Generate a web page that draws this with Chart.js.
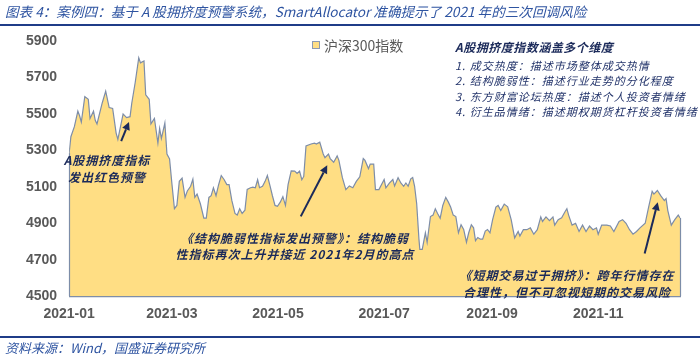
<!DOCTYPE html>
<html><head><meta charset="utf-8">
<script src="https://cdn.jsdelivr.net/npm/chart.js@4/dist/chart.umd.min.js"></script>
<style>
html,body{margin:0;padding:0;background:#fff;}
#wrap{position:relative;width:700px;height:356px;overflow:hidden;font-family:"Noto Sans CJK SC","Noto Sans",sans-serif;}
canvas{position:absolute;left:0;top:0;}
.t{position:absolute;white-space:nowrap;}
.rule{position:absolute;left:0;width:700px;height:2px;background:#1F3C88;}
#title{left:5px;top:1px;font-size:13.6px;line-height:20px;font-style:italic;color:#2E54A1;}
#source{left:5px;top:339px;font-size:13px;line-height:17px;font-style:italic;color:#2E54A1;}
.ann{position:absolute;white-space:nowrap;text-align:center;font-size:12px;font-weight:bold;font-style:italic;color:#1B2A5A;letter-spacing:1px;}
#legend{left:312px;top:36px;font-size:14px;line-height:18px;color:#595959;}
#legend .sw{display:inline-block;width:6px;height:6px;border:1px solid #8C9AB3;background:#FFDE84;margin-right:4px;vertical-align:2px;}
#box{left:455px;top:38px;color:#22336A;}
#box .h{font-size:12px;font-weight:bold;font-style:italic;line-height:18px;letter-spacing:0.5px;color:#1B2A5A;}
#box .l{font-size:11px;font-style:italic;line-height:15.3px;letter-spacing:1px;}
</style></head><body>
<div id="wrap">
<canvas id="c" width="700" height="356"></canvas>
<div class="t" id="title">图表 4：案例四：基于 A 股拥挤度预警系统，SmartAllocator 准确提示了 2021 年的三次回调风险</div>
<div class="rule" style="top:24px"></div>
<div class="rule" style="top:336px"></div>
<div class="t" id="source">资料来源：Wind，国盛证券研究所</div>
<div class="t" id="legend"></div>
<div class="t" id="box">
<div class="h">A股拥挤度指数涵盖多个维度</div>
<div class="l" style="margin-top:2px">1. 成交热度：描述市场整体成交热情</div>
<div class="l">2. 结构脆弱性：描述行业走势的分化程度</div>
<div class="l">3. 东方财富论坛热度：描述个人投资者情绪</div>
<div class="l">4. 衍生品情绪：描述期权期货杠杆投资者情绪</div>
</div>
<div class="ann" style="left:47px;top:151px;width:120px;line-height:17px;">A股拥挤度指标<br>发出红色预警</div>
<div class="ann" style="left:160px;top:230px;width:270px;line-height:16px;">《结构脆弱性指标发出预警》：结构脆弱<br>性指标再次上升并接近 2021年2月的高点</div>
<div class="ann" style="left:442px;top:266px;width:250px;line-height:17px;">《短期交易过于拥挤》：跨年行情存在<br>合理性，但不可忽视短期的交易风险</div>
</div>
<script>
const seriesName = '沪深300指数';
const tickDays = [0, 59, 120, 181, 243, 304];
const tickLabels = ['2021-01', '2021-03', '2021-05', '2021-07', '2021-09', '2021-11'];
const yMin = 4500, yMax = 5900, yStep = 200;

const days = [
 0,1,3,5,6,7,9,11,12,14,15,16,19,21,23,25,27,28,31,33,35,36,38,40,41,43,44,46,47,49,51,52,53,55,
 56.2,57.7,59.1,60.5,61.9,63.3,64.9,66.6,67.9,69.8,71.1,72.2,73.5,75.4,77.4,78.8,80.3,81.6,82.9,84.4,85.9,87.4,89.1,90.6,91.9,93.5,95.3,96.6,98,99.4,101,102.3,104.2,105.6,107,108.3,109.4,111.1,112.6,113.9,115.5,116.8,118.3,119.7,121.3,122.8,124.3,125.8,127.6,129.6,131,132.4,133.7,134.8,136.1,
 139,141,142,144,146,147,149,150,152,154,155,157,159,161,163,165,167,169,170,172,173,175,176,178,181,182,184,186,187,189,
 190.6,192.2,193.5,194.8,196.3,197.4,198.5,199.7,201,201.5,202.9,204.7,205.7,207.6,209.1,210.4,211.7,213.2,214.7,216.4,217.9,219.2,220.7,222.2,223.7,225.2,226.7,228.3,229.6,231.1,232.4,233.5,234.8,236.3,237.6,239.1,240.4,241.8,243.3,245.2,246.5,
 248,250,252,254,256,258,259,261,263,265,267,269,271,272,274,276,278,279,281,283,285,286,287,289,291,293,295,297,299,301,303,304,306,309,311,313,316,318,320,322,324,326,328,331,333,335,336,338,340,342,343,344,346,348,350,351
];
const csi300 = [
 5285,5375,5430,5515,5490,5455,5595,5580,5475,5515,5465,5445,5560,5625,5535,5530,5395,5360,5500,5480,5485,5560,5675,5808,5780,5790,5605,5580,5445,5475,5340,5420,5365,5450,
 5280,5253,5112,4980,4998,5130,5148,5042,5077,5103,5142,5042,5060,5007,4928,4928,5042,5051,5095,5051,5112,5162,5139,5112,5112,5024,4954,4945,4980,4954,4972,5086,5095,5098,5095,5139,5095,5103,5130,5162,5103,5051,4998,4993,5016,5046,4998,5112,5188,5186,5174,5186,5139,5157,5324,
 5335,5340,5335,5345,5280,5260,5280,5255,5235,5270,5245,5150,5085,5105,5095,5130,5155,5255,5245,5200,5225,5225,5085,5085,5140,5095,5120,5140,5105,5150,
 5121,5103,5121,5103,5144,5151,5103,5007,4813,4757,4757,4848,4796,4937,4945,4980,4954,4928,4998,5042,5016,4989,4945,4937,4848,4892,4866,4796,4848,4892,4875,4805,4822,4813,4813,4857,4866,4848,4919,4989,4998,
 4970,5005,4990,4920,4820,4855,4830,4865,4865,4875,4840,4865,4935,4910,4935,4915,4935,4890,4920,4930,4965,4980,4945,4890,4900,4855,4890,4855,4885,4865,4875,4840,4890,4890,4885,4855,4910,4920,4900,4865,4840,4855,4875,4900,4990,5075,5060,5080,5050,5025,5035,4970,4890,4920,4945,4930
];

// annotation arrows, anchored in data coordinates: [tailDay, tailValue, headDay, headValue]
const arrows = [
 [29.9, 5351, 34.4, 5456],
 [133.1, 4938, 148.3, 5218],
 [330.7, 4734, 338.2, 5016]
];

document.getElementById('legend').innerHTML = '<span class="sw"></span>' + seriesName;

const lineColor = '#7D8DA8';
const edgePlugin = {
  id: 'edges',
  afterDatasetsDraw(chart) {
    const meta = chart.getDatasetMeta(0);
    const pts = meta.data;
    const ctx = chart.ctx, b = chart.chartArea.bottom;
    ctx.save();
    ctx.strokeStyle = lineColor; ctx.lineWidth = 1.2;
    [pts[0], pts[pts.length - 1]].forEach(p => {
      ctx.beginPath(); ctx.moveTo(Math.round(p.x) + 0.5, p.y); ctx.lineTo(Math.round(p.x) + 0.5, b); ctx.stroke();
    });
    ctx.restore();
  }
};
const arrowPlugin = {
  id: 'arrows',
  afterDraw(chart) {
    const ctx = chart.ctx, xs = chart.scales.x, ys = chart.scales.y;
    ctx.save();
    ctx.strokeStyle = '#1B2A5A'; ctx.fillStyle = '#1B2A5A'; ctx.lineWidth = 2;
    arrows.forEach(a => {
      const x1 = xs.getPixelForValue(a[0]), y1 = ys.getPixelForValue(a[1]);
      const x2 = xs.getPixelForValue(a[2]), y2 = ys.getPixelForValue(a[3]);
      const ang = Math.atan2(y2 - y1, x2 - x1), hl = 8, hw = 4;
      const bx = x2 - hl * Math.cos(ang), by = y2 - hl * Math.sin(ang);
      ctx.beginPath(); ctx.moveTo(x1, y1); ctx.lineTo(bx, by); ctx.stroke();
      ctx.beginPath();
      ctx.moveTo(x2, y2);
      ctx.lineTo(bx + hw * Math.sin(ang), by - hw * Math.cos(ang));
      ctx.lineTo(bx - hw * Math.sin(ang), by + hw * Math.cos(ang));
      ctx.closePath(); ctx.fill();
    });
    ctx.restore();
  }
};

const tickFont = { family: '"Liberation Sans", Arial, sans-serif', size: 14, weight: 'bold' };
new Chart(document.getElementById('c'), {
  type: 'line',
  data: {
    datasets: [{
      label: seriesName,
      data: days.map((d, i) => ({ x: d, y: csi300[i] })),
      borderColor: lineColor,
      borderWidth: 1.2,
      backgroundColor: '#FFDE84',
      fill: 'start',
      pointRadius: 0,
      tension: 0
    }]
  },
  options: {
    responsive: false,
    animation: false,
    layout: { padding: { left: 14, right: 20, top: 41, bottom: 23 } },
    plugins: { legend: { display: false }, tooltip: { enabled: false } },
    scales: {
      x: {
        type: 'linear',
        min: tickDays[0],
        max: days[days.length - 1],
        grid: { display: false, drawTicks: false },
        border: { display: true, color: lineColor, width: 1.2 },
        afterBuildTicks: s => { s.ticks = tickDays.map(v => ({ value: v })); },
        ticks: {
          autoSkip: false, maxRotation: 0, padding: 10, color: '#595959', font: tickFont,
          callback: v => { const i = tickDays.indexOf(v); return i >= 0 ? tickLabels[i] : ''; }
        }
      },
      y: {
        min: yMin, max: yMax,
        grid: { display: false, drawTicks: false },
        border: { display: false },
        ticks: { stepSize: yStep, padding: 12, color: '#595959', font: tickFont, callback: v => String(v) }
      }
    }
  },
  plugins: [edgePlugin, arrowPlugin]
});
</script>
</body></html>
